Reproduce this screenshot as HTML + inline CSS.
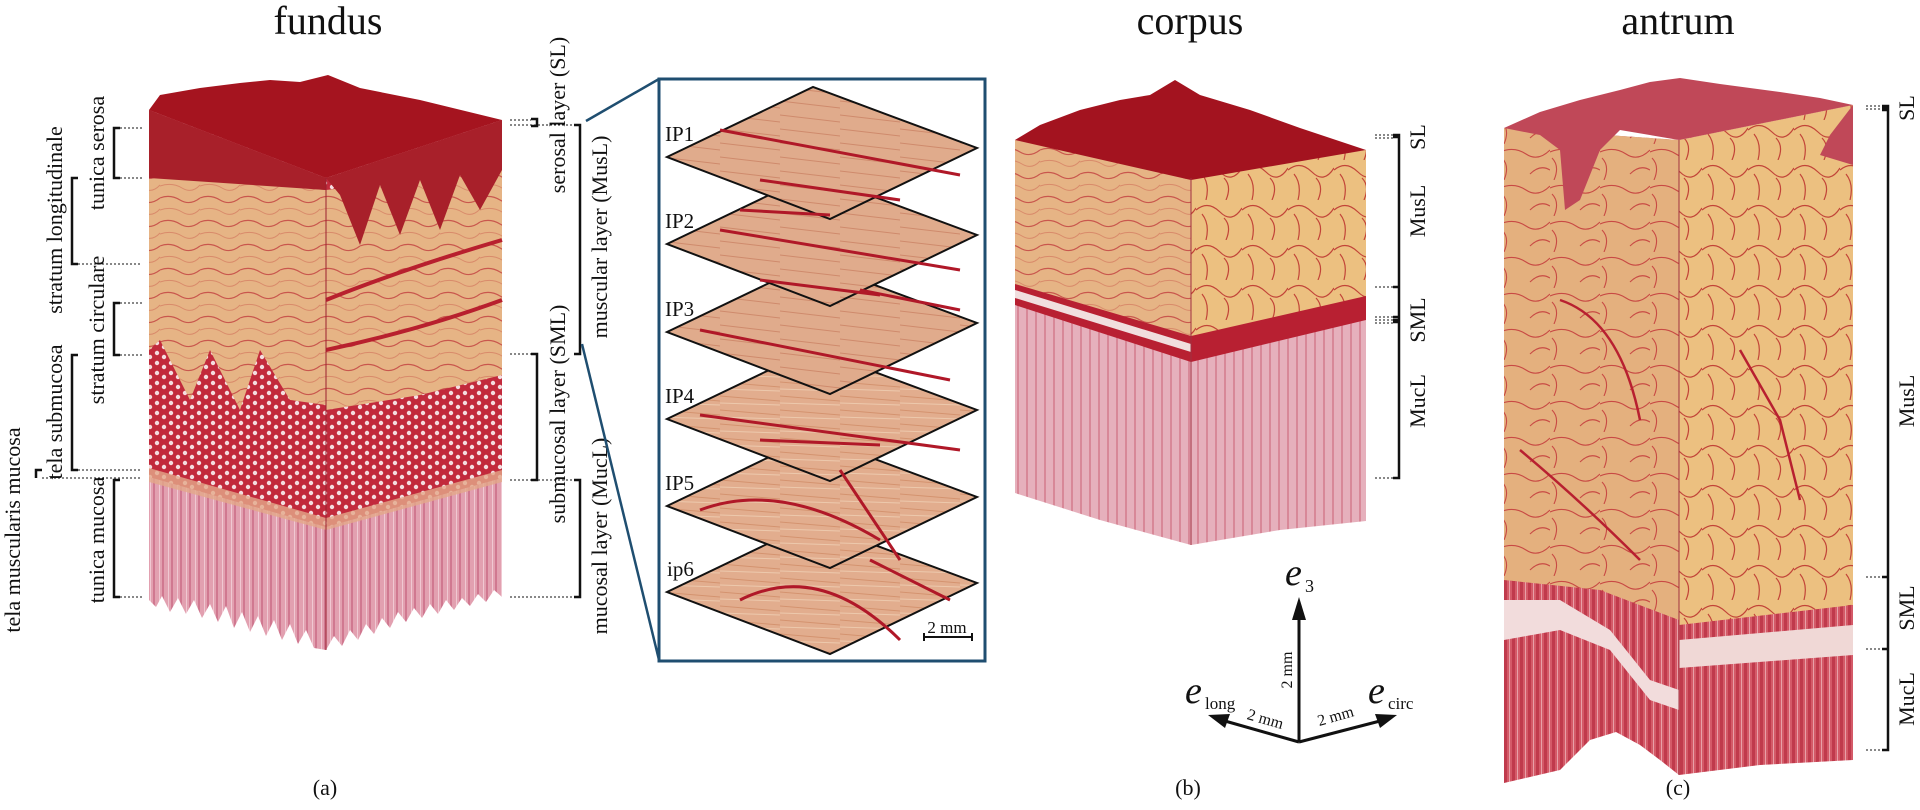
<!DOCTYPE html>
<html><head><meta charset="utf-8"><style>
html,body{margin:0;padding:0;background:#fff;}
svg{display:block;}
text{font-family:"Liberation Serif",serif;fill:#111;}
</style></head><body>
<svg width="1920" height="810" viewBox="0 0 1920 810" xmlns="http://www.w3.org/2000/svg">
<defs>
<pattern id="muc" width="9" height="40" patternUnits="userSpaceOnUse">
<rect width="9" height="40" fill="#e2a0b0"/>
<rect x="0" width="2" height="40" fill="#d07890"/>
<rect x="6" width="1" height="40" fill="#f0c8d2"/>
</pattern>
<pattern id="mucb" width="9" height="40" patternUnits="userSpaceOnUse">
<rect width="9" height="40" fill="#e6b0bc"/>
<rect x="0" width="2" height="40" fill="#d88898"/>
</pattern>
<pattern id="mucr" width="8" height="40" patternUnits="userSpaceOnUse">
<rect width="8" height="40" fill="#d45a68"/>
<rect x="0" width="3" height="40" fill="#c03a4c"/>
<rect x="5" width="1" height="40" fill="#e8a0a8"/>
</pattern>
<pattern id="sub" width="14" height="10" patternUnits="userSpaceOnUse">
<rect width="14" height="10" fill="#c22a3c"/>
<circle cx="3" cy="3" r="2.2" fill="#f4dde0"/>
<circle cx="10" cy="7" r="2.2" fill="#f4dde0"/>
</pattern>
<pattern id="mus" width="40" height="24" patternUnits="userSpaceOnUse">
<rect width="40" height="24" fill="#e6b485"/>
<path d="M0 6 Q10 2 20 8 T40 6" stroke="#c9574d" stroke-width="1.2" fill="none"/>
<path d="M0 18 Q12 14 22 20 T40 17" stroke="#d98a6a" stroke-width="1" fill="none"/>
</pattern>
<pattern id="musy" width="46" height="40" patternUnits="userSpaceOnUse">
<rect width="46" height="40" fill="#ecc080"/>
<path d="M0 10 Q12 0 24 12 T46 8 M10 40 Q14 24 6 14 M30 40 Q36 26 28 18" stroke="#c24438" stroke-width="1.2" fill="none"/>
</pattern>
<pattern id="ant" width="50" height="36" patternUnits="userSpaceOnUse">
<rect width="50" height="36" fill="#e4b07e"/>
<path d="M0 8 Q14 2 26 10 T50 6 M4 36 Q10 22 2 14 M30 30 Q40 20 50 26" stroke="#c84a44" stroke-width="1.1" fill="none"/>
</pattern>
<pattern id="sl" width="60" height="14" patternUnits="userSpaceOnUse">
<rect width="60" height="14" fill="#e2ad8e"/>
<path d="M0 4 L60 9" stroke="#d4936f" stroke-width="1"/>
<path d="M0 11 L60 13" stroke="#edc9ad" stroke-width="1"/>
</pattern>
<pattern id="ip" width="60" height="14" patternUnits="userSpaceOnUse">
<rect width="60" height="14" fill="#e0ab8c"/>
<path d="M0 3 L60 10" stroke="#cf8a6c" stroke-width="1"/>
</pattern>
</defs>

<text x="328" y="34" font-size="40" text-anchor="middle">fundus</text>
<text x="1190" y="34" font-size="40" text-anchor="middle">corpus</text>
<text x="1678" y="34" font-size="40" text-anchor="middle">antrum</text>

<!-- FUNDUS -->
<polygon points="149,110 149,600 156,607 162,596 170,612 178,598 186,614 194,600 202,618 210,604 218,622 226,606 234,628 242,612 250,632 258,616 266,636 274,620 282,640 290,624 298,644 306,630 314,648 326,650 326,178" fill="url(#muc)"/>
<polygon points="326,178 326,650 334,636 342,646 350,630 358,640 366,624 374,634 382,618 390,628 398,612 406,622 414,608 422,618 430,604 438,614 446,600 454,610 462,598 470,606 478,594 486,602 494,590 502,597 502,120" fill="url(#muc)"/>
<polygon points="149,110 149,477 326,527 326,178" fill="url(#sub)"/>
<polygon points="326,178 326,527 502,478 502,120" fill="url(#sub)"/>
<polygon points="149,468 326,518 326,530 149,482" fill="#e3a98a" opacity="0.8"/>
<polygon points="326,518 502,470 502,482 326,530" fill="#e3a98a" opacity="0.8"/>
<polygon points="149,175 326,190 326,405 290,400 260,350 240,410 210,350 190,400 160,340 149,350" fill="url(#mus)"/>
<polygon points="326,190 502,170 502,375 420,395 326,410" fill="url(#mus)"/>
<path d="M326 300 Q400 270 502 240 M326 350 Q420 330 502 300" stroke="#b8202e" stroke-width="4" fill="none"/>
<polygon points="149,110 160,95 200,88 240,83 270,80 300,82 328,75 360,88 420,100 502,120 326,178" fill="#a5141f"/>
<polygon points="149,110 326,178 326,190 149,178" fill="#a8202a"/>
<polygon points="326,178 502,120 502,170 480,210 460,175 440,230 420,180 400,235 380,185 360,245 340,195" fill="#a8202a"/>
<line x1="326" y1="178" x2="326" y2="650" stroke="#9a2030" stroke-width="1"/>

<g stroke="#111" stroke-width="2.5" fill="none">
<path d="M120 128 H114 V178 H120"/>
<path d="M78 178 H72 V264 H78"/>
<path d="M120 303 H114 V355 H120"/>
<path d="M78 355 H72 V470 H78"/>
<path d="M36 478 V470 H42"/>
<path d="M120 480 H114 V597 H120"/>
</g>
<g stroke="#111" stroke-width="1" stroke-dasharray="2,2">
<line x1="120" y1="128" x2="142" y2="128"/><line x1="120" y1="178" x2="142" y2="178"/>
<line x1="78" y1="264" x2="142" y2="264"/><line x1="120" y1="303" x2="142" y2="303"/>
<line x1="120" y1="355" x2="142" y2="355"/><line x1="78" y1="470" x2="142" y2="470"/>
<line x1="42" y1="478" x2="142" y2="478"/><line x1="120" y1="597" x2="142" y2="597"/>
</g>
<g font-size="22">
<text transform="translate(104,153) rotate(-90)" text-anchor="middle">tunica serosa</text>
<text transform="translate(62,220) rotate(-90)" text-anchor="middle">stratum longitudinale</text>
<text transform="translate(104,330) rotate(-90)" text-anchor="middle">stratum circulare</text>
<text transform="translate(62,412) rotate(-90)" text-anchor="middle">tela submucosa</text>
<text transform="translate(104,540) rotate(-90)" text-anchor="middle">tunica mucosa</text>
<text transform="translate(20,530) rotate(-90)" text-anchor="middle">tela muscularis mucosa</text>
</g>

<g stroke="#111" stroke-width="2.5" fill="none">
<path d="M531 119 H537 V126 H531"/>
<path d="M574 125 H580 V354 H574"/>
<path d="M531 354 H537 V480 H531"/>
<path d="M574 480 H580 V597 H574"/>
</g>
<g stroke="#111" stroke-width="1" stroke-dasharray="2,2">
<line x1="510" y1="120" x2="531" y2="120"/><line x1="510" y1="125" x2="574" y2="125"/>
<line x1="510" y1="354" x2="531" y2="354"/><line x1="510" y1="480" x2="574" y2="480"/>
<line x1="510" y1="597" x2="574" y2="597"/>
</g>
<g font-size="22">
<text transform="translate(565,115) rotate(-90)" text-anchor="middle">serosal layer (SL)</text>
<text transform="translate(607,237) rotate(-90)" text-anchor="middle">muscular layer (MusL)</text>
<text transform="translate(565,414) rotate(-90)" text-anchor="middle">submucosal layer (SML)</text>
<text transform="translate(607,536) rotate(-90)" text-anchor="middle">mucosal layer (MucL)</text>
</g>
<line x1="586" y1="121" x2="659" y2="79" stroke="#1f4e70" stroke-width="2.5"/>
<line x1="582" y1="344" x2="659" y2="660" stroke="#1f4e70" stroke-width="2.5"/>

<rect x="659" y="79" width="326" height="582" fill="#fff" stroke="#1f4e70" stroke-width="3"/>
<g stroke="#111" stroke-width="2">
<polygon points="667,592 813,522 977,583 830,654" fill="url(#sl)"/>
<polygon points="667,506 813,436 977,497 830,568" fill="url(#sl)"/>
<polygon points="667,419 813,349 977,410 830,481" fill="url(#sl)"/>
<polygon points="667,332 813,262 977,323 830,394" fill="url(#ip)"/>
<polygon points="667,244 813,174 977,235 830,306" fill="url(#ip)"/>
<polygon points="667,157 813,87 977,148 830,219" fill="url(#ip)"/>
</g>
<g stroke="#b01828" stroke-width="3" fill="none">
<path d="M720 130 L960 175 M760 180 L900 200 M740 210 L830 215"/>
<path d="M720 230 L960 270 M760 280 L880 295"/>
<path d="M700 330 L950 380 M860 290 L960 310"/>
<path d="M700 415 L960 450 M760 440 L880 445"/>
<path d="M700 510 Q780 480 880 540 M840 470 L900 560"/>
<path d="M740 600 Q820 560 900 640 M870 560 L950 600"/>
</g>
<g font-size="21">
<text x="665" y="141">IP1</text><text x="665" y="228">IP2</text>
<text x="665" y="316">IP3</text><text x="665" y="403">IP4</text>
<text x="665" y="490">IP5</text><text x="667" y="576">ip6</text>
</g>
<text x="947" y="633" font-size="17" text-anchor="middle">2 mm</text>
<path d="M924 633 V641 M924 637 H972 M972 633 V641" stroke="#111" stroke-width="2" fill="none"/>

<!-- CORPUS -->
<polygon points="1015,140 1015,493 1100,520 1191,545 1191,178" fill="url(#mucb)"/>
<polygon points="1191,178 1191,545 1280,530 1366,521 1366,150" fill="url(#mucb)"/>
<polygon points="1015,280 1191,332 1191,362 1015,305" fill="#b82032"/>
<polygon points="1191,332 1366,295 1366,320 1191,362" fill="#b82032"/>
<polygon points="1015,290 1191,344 1191,352 1015,298" fill="#f1dede"/>
<polygon points="1015,140 1191,178 1191,336 1015,284" fill="url(#mus)"/>
<polygon points="1191,178 1366,150 1366,296 1191,336" fill="url(#musy)"/>
<polygon points="1015,140 1040,125 1080,110 1120,100 1150,95 1175,80 1200,95 1250,110 1300,128 1366,150 1191,180" fill="#a3131f"/>
<line x1="1191" y1="178" x2="1191" y2="545" stroke="#a03040" stroke-width="1"/>
<g stroke="#111" stroke-width="2.5" fill="none">
<path d="M1393 135 H1399 V478 H1393"/>
<path d="M1393 137 H1399 M1393 287 H1399 M1393 317 H1399 M1393 320 H1399 M1393 322 H1399"/>
</g>
<g stroke="#111" stroke-width="1" stroke-dasharray="2,2">
<line x1="1375" y1="135" x2="1393" y2="135"/><line x1="1375" y1="138" x2="1393" y2="138"/>
<line x1="1375" y1="287" x2="1393" y2="287"/><line x1="1375" y1="317" x2="1393" y2="317"/>
<line x1="1375" y1="320" x2="1393" y2="320"/><line x1="1375" y1="323" x2="1393" y2="323"/>
<line x1="1375" y1="478" x2="1393" y2="478"/>
</g>
<g font-size="22">
<text transform="translate(1425,137) rotate(-90)" text-anchor="middle">SL</text>
<text transform="translate(1425,211) rotate(-90)" text-anchor="middle">MusL</text>
<text transform="translate(1425,320) rotate(-90)" text-anchor="middle">SML</text>
<text transform="translate(1425,401) rotate(-90)" text-anchor="middle">MucL</text>
</g>

<!-- ANTRUM -->
<polygon points="1504,128 1504,783 1560,770 1590,740 1616,732 1640,745 1660,760 1679,775 1679,140" fill="url(#mucr)"/>
<polygon points="1679,140 1679,775 1760,765 1853,760 1853,105" fill="url(#mucr)"/>
<polygon points="1504,640 1560,630 1610,650 1650,700 1679,710 1679,690 1650,680 1610,630 1560,600 1504,600" fill="#f2dcdc"/>
<polygon points="1679,640 1853,625 1853,655 1679,668" fill="#f0d8d6"/>
<polygon points="1504,128 1679,140 1679,620 1600,590 1504,580" fill="url(#ant)"/>
<polygon points="1679,140 1853,105 1853,605 1679,625" fill="url(#musy)"/>
<polygon points="1504,128 1540,112 1580,100 1620,90 1650,82 1680,78 1720,84 1780,92 1820,98 1853,105 1679,140 1620,130 1600,150 1580,200 1565,210 1560,150 1540,135" fill="#c04858"/>
<polygon points="1853,105 1830,135 1820,155 1853,165" fill="#c04858"/>
<path d="M1560 300 Q1620 320 1640 420 M1740 350 L1780 420 L1800 500 M1520 450 Q1580 500 1640 560" stroke="#b82030" stroke-width="2.5" fill="none"/>
<line x1="1679" y1="140" x2="1679" y2="775" stroke="#a03040" stroke-width="1"/>
<g stroke="#111" stroke-width="2.5" fill="none">
<path d="M1882 106 H1888 V750 H1882"/>
<path d="M1882 108 H1888 M1882 110 H1888 M1882 577 H1888 M1882 649 H1888"/>
</g>
<g stroke="#111" stroke-width="1" stroke-dasharray="2,2">
<line x1="1866" y1="106" x2="1882" y2="106"/><line x1="1866" y1="109" x2="1882" y2="109"/>
<line x1="1866" y1="577" x2="1882" y2="577"/><line x1="1866" y1="649" x2="1882" y2="649"/>
<line x1="1866" y1="750" x2="1882" y2="750"/>
</g>
<g font-size="22">
<text transform="translate(1914,108) rotate(-90)" text-anchor="middle">SL</text>
<text transform="translate(1914,401) rotate(-90)" text-anchor="middle">MusL</text>
<text transform="translate(1914,608) rotate(-90)" text-anchor="middle">SML</text>
<text transform="translate(1914,699) rotate(-90)" text-anchor="middle">MucL</text>
</g>

<g stroke="#111" stroke-width="3" fill="none">
<line x1="1299" y1="742" x2="1299" y2="615"/>
<line x1="1299" y1="742" x2="1225" y2="721"/>
<line x1="1299" y1="742" x2="1380" y2="721"/>
</g>
<polygon points="1299,597 1292,620 1306,620" fill="#111"/>
<polygon points="1208,715 1230,714 1225,728" fill="#111"/>
<polygon points="1397,715 1375,714 1380,728" fill="#111"/>
<text x="1285" y="585" font-size="38" font-style="italic">e</text>
<text x="1305" y="592" font-size="18">3</text>
<text x="1185" y="703" font-size="38" font-style="italic">e</text>
<text x="1205" y="709" font-size="17">long</text>
<text x="1368" y="703" font-size="38" font-style="italic">e</text>
<text x="1388" y="709" font-size="17">circ</text>
<text transform="translate(1292,670) rotate(-90)" font-size="16" text-anchor="middle">2 mm</text>
<text transform="translate(1264,724) rotate(16)" font-size="16" text-anchor="middle">2 mm</text>
<text transform="translate(1337,721) rotate(-16)" font-size="16" text-anchor="middle">2 mm</text>

<text x="325" y="795" font-size="22" text-anchor="middle">(a)</text>
<text x="1188" y="795" font-size="22" text-anchor="middle">(b)</text>
<text x="1678" y="795" font-size="22" text-anchor="middle">(c)</text>
</svg>
</body></html>
